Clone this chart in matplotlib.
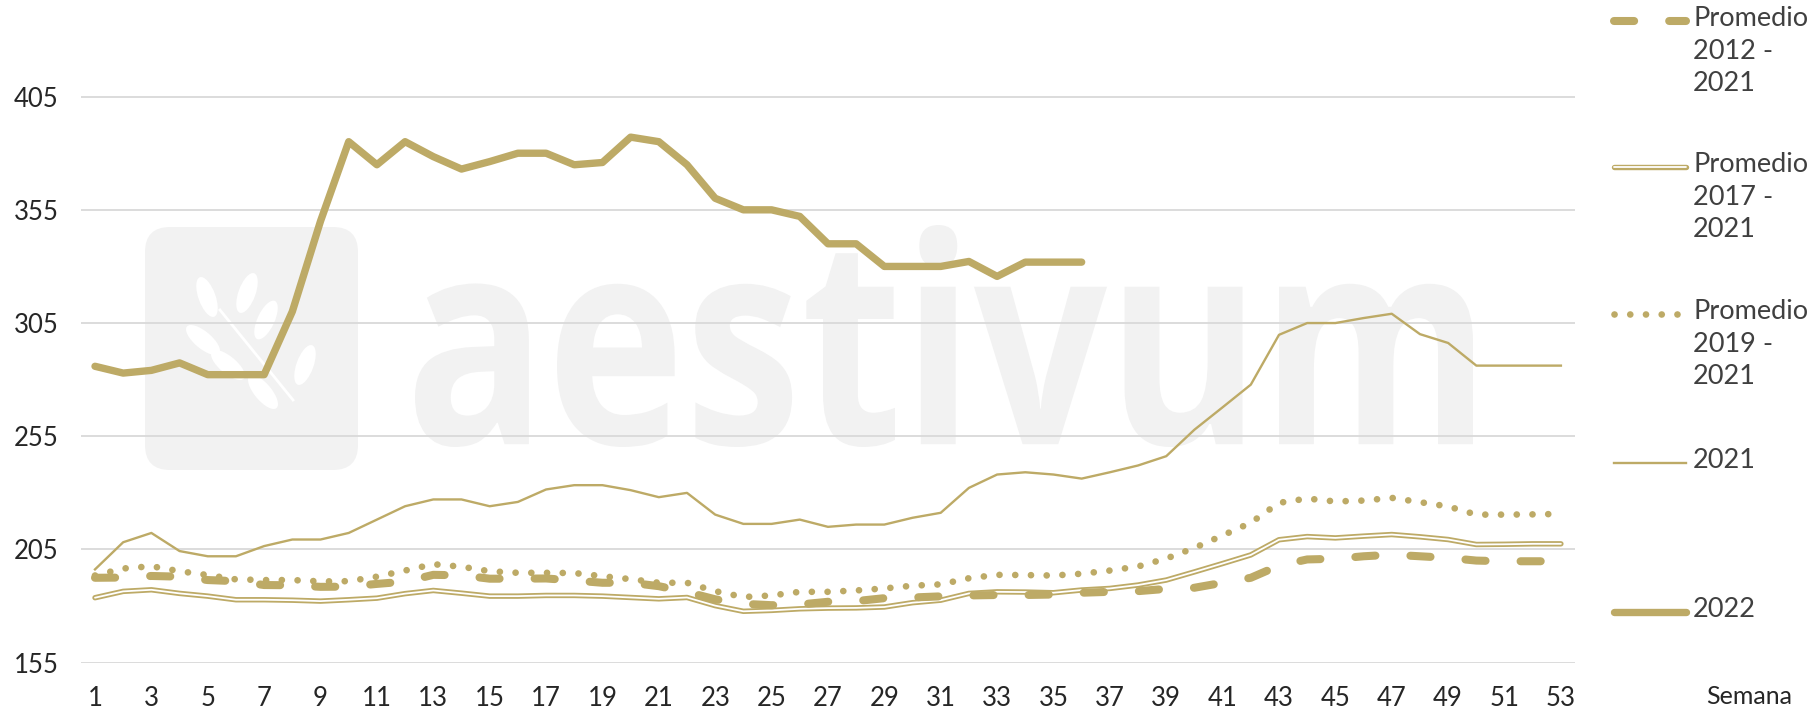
import matplotlib
matplotlib.use("Agg")
from matplotlib import pyplot as plt
from matplotlib.lines import Line2D
from matplotlib.patches import FancyBboxPatch, PathPatch, Ellipse
from matplotlib.textpath import TextPath
from matplotlib.font_manager import FontProperties
from matplotlib.transforms import Affine2D

plt.rcParams['font.family'] = ['Lato', 'DejaVu Sans']

weeks = list(range(1, 54))
week_ticks = list(range(1, 54, 2))
y_ticks = [155, 205, 255, 305, 355, 405]

avg_2012_2021 = [192.5, 192.6, 193.3, 193.0, 191.5, 191.0, 189.3, 189.2, 188.5, 188.6,
                 189.8, 190.8, 193.8, 193.6, 192.1, 192.1, 192.2, 191.3, 190.3, 190.3,
                 188.8, 186.2, 183.0, 181.0, 180.4, 180.7, 181.9, 182.2, 183.5, 183.8,
                 184.3, 184.7, 184.9, 184.9, 185.1, 185.9, 186.3, 186.6, 187.6, 188.1,
                 190.3, 192.5, 197.9, 200.6, 200.9, 202.0, 202.7, 202.0, 201.3, 200.1,
                 199.8, 199.8, 199.8]
avg_2017_2021 = [183.7, 186.5, 187.2, 185.6, 184.4, 182.8, 182.8, 182.6, 182.2, 182.8,
                 183.5, 185.5, 186.9, 185.7, 184.4, 184.4, 184.7, 184.7, 184.4, 183.8,
                 183.2, 183.8, 180.2, 177.7, 178.1, 178.8, 179.1, 179.2, 179.6, 181.5,
                 182.6, 185.6, 186.3, 186.2, 185.9, 187.1, 187.8, 189.3, 191.5, 195.1,
                 198.8, 202.6, 209.3, 210.7, 210.1, 210.9, 211.6, 210.6, 209.4, 207.2,
                 207.3, 207.5, 207.5]
avg_2019_2021 = [193.5, 196.6, 197.6, 195.4, 193.7, 191.8, 191.5, 191.5, 190.9, 191.0,
                 193.0, 195.7, 198.5, 197.4, 195.4, 194.7, 194.7, 194.6, 193.2, 191.9,
                 190.3, 190.3, 186.6, 184.0, 184.7, 186.3, 186.3, 186.9, 187.8, 189.0,
                 189.6, 192.3, 193.8, 193.7, 193.5, 194.3, 195.7, 197.5, 201.0, 205.7,
                 211.2, 216.8, 225.6, 227.5, 226.2, 226.6, 227.8, 225.9, 224.0, 220.4,
                 220.4, 220.5, 220.7]
y2021 = [196.2, 208.2, 212.3, 204.3, 202.0, 202.0, 206.5, 209.4, 209.4, 212.3,
         218.2, 224.1, 227.1, 227.1, 224.1, 226.0, 231.5, 233.4, 233.4, 231.2,
         228.1, 230.0, 220.4, 216.3, 216.3, 218.2, 215.0, 216.0, 216.0, 219.0,
         221.2, 232.2, 238.1, 239.1, 238.1, 236.3, 239.1, 242.1, 246.2, 257.9,
         267.8, 277.8, 299.8, 305.0, 305.0, 307.2, 309.1, 300.1, 296.2, 286.2,
         286.2, 286.2, 286.2]
y2022 = [285.9, 282.9, 284.1, 287.4, 282.2, 282.2, 282.2, 310.1, 350.0, 385.1,
         374.9, 385.1, 378.5, 373.0, 376.3, 380.0, 380.0, 374.9, 375.9, 387.1,
         385.1, 374.9, 360.1, 355.0, 355.0, 352.1, 340.0, 340.0, 330.0, 330.0,
         330.0, 332.2, 325.6, 331.9, 331.9, 331.9]

labels = ["Promedio\n2012 -\n2021", "Promedio\n2017 -\n2021", "Promedio\n2019 -\n2021",
          "2021", "2022"]

GOLD = '#BDAA66'
WM = '#F2F2F2'

# line styles
st_dash = dict(color=GOLD, lw=5.8, linestyle=(0, (2.5, 4.35)), dash_capstyle='round')
st_double_out = dict(color=GOLD, lw=3.9, solid_capstyle='round', solid_joinstyle='round')
st_double_in = dict(color='white', lw=1.3, solid_capstyle='round', solid_joinstyle='round')
st_dot = dict(color=GOLD, lw=4.8, linestyle=(0, (0.01, 2.35)), dash_capstyle='round')
st_thin = dict(color=GOLD, lw=1.7, solid_joinstyle='round')
st_thick = dict(color=GOLD, lw=5.3, solid_capstyle='round', solid_joinstyle='round')

W, H = 1810, 710
fig = plt.figure(figsize=(18.1, 7.1), dpi=100)
ax = fig.add_axes([80.9 / W, 47.3 / H, (1575 - 80.9) / W, 622.7 / H])
ax.patch.set_alpha(0)

# watermark: logo box with wheat, and the word (pixel positions -> inches)
inch = fig.dpi_scale_trans
box = FancyBboxPatch((1.45, 2.40), 2.13, 2.43, boxstyle="round,pad=0,rounding_size=0.25",
                     transform=inch, facecolor=WM, edgecolor='none', zorder=-2)
fig.add_artist(box)
fig.add_artist(Line2D([2.20, 2.93], [7.1 - 3.10, 7.1 - 4.00], transform=inch,
                      color='white', lw=2, zorder=-1))
leaves = [(207, 297, 20), (247, 293, -20), (266, 320, -25), (203, 340, 50),
          (228, 365, 50), (305, 365, -20), (263, 392, 40)]
for lx, ly, ang in leaves:
    fig.add_artist(Ellipse((lx / 100, 7.1 - ly / 100), 0.17, 0.42, angle=ang,
                           transform=inch, facecolor='white', edgecolor='none', zorder=-1))

tp = TextPath((0, 0), "aestivum", size=1, prop=FontProperties(family='Open Sans', weight='bold'))
ext = tp.get_extents()
x0, x1, yb, yt = 415 / W, 1473 / W, 1 - 447 / H, 1 - 225 / H
tr = Affine2D().translate(-ext.x0, -ext.y0).scale((x1 - x0) / ext.width, (yt - yb) / ext.height).translate(x0, yb)
fig.add_artist(PathPatch(tr.transform_path(tp), transform=fig.transFigure,
                         facecolor=WM, edgecolor='none', zorder=-2))

ax.plot(weeks[:len(y2022)], y2022, **st_thick, zorder=3)
ax.plot(weeks, y2021, **st_thin, zorder=3)
ax.plot(weeks, avg_2019_2021, **st_dot, zorder=3)
ax.plot(weeks, avg_2017_2021, **st_double_out, zorder=4)
ax.plot(weeks, avg_2017_2021, **st_double_in, zorder=4)
ax.plot(weeks, avg_2012_2021, **st_dash, zorder=5)

ax.set_xlim(0.5, 53.5)
ax.set_ylim(155, 430)
ax.set_yticks(y_ticks)
ax.set_xticks(week_ticks)
ax.grid(axis='y', color='#D9D9D9', lw=1.3)
ax.set_axisbelow(True)
for s in ax.spines.values():
    s.set_visible(False)
ax.tick_params(axis='both', length=0, labelsize=18.5, labelcolor='#262626')
ax.tick_params(axis='y', pad=16)
ax.tick_params(axis='x', pad=17)

# legend on the right, drawn by hand so the symbol sits on the first text line
leg_y = [21, 167, 314, 463, 612]
leg_styles = [[st_dash], [st_double_out, st_double_in], [st_dot], [st_thin], [st_thick]]
for yy, lab, sts in zip(leg_y, labels, leg_styles):
    yf = 1 - yy / H
    for st in sts:
        fig.add_artist(Line2D([1614 / W, 1686 / W], [yf, yf], transform=fig.transFigure, **st))
    fig.text(1693 / W, yf + 15 / H, lab, ha='left', va='top', fontsize=19.5,
             color='#404040', linespacing=1.38)

fig.text(1749 / W, 1 - 696 / H, "Semana", ha='center', va='center', fontsize=18, color='#262626')

fig.savefig("out.png", dpi=100)
